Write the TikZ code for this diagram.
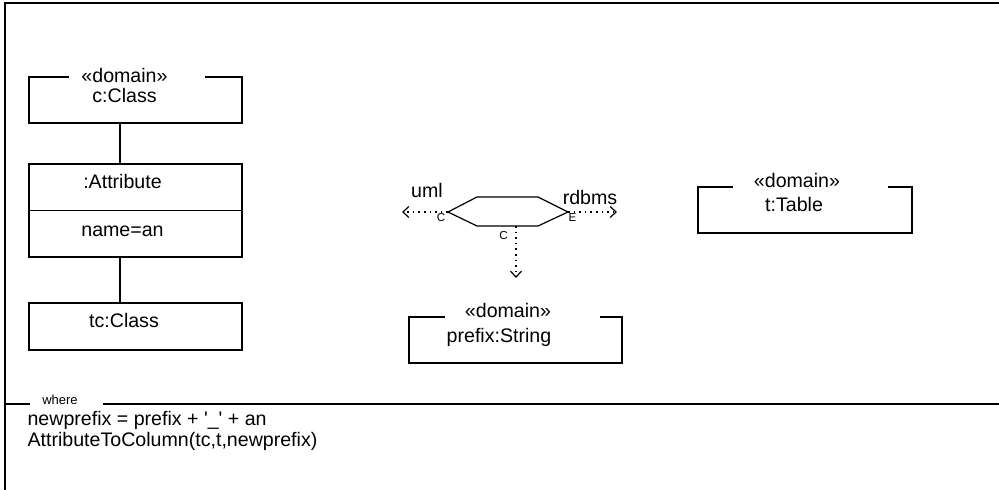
\documentclass[tikz,border=0pt]{standalone}
\usepackage{fontspec}
\setmainfont{Liberation Sans}
\usetikzlibrary{arrows.meta}

\tikzset{
  objbox/.style={draw, minimum width=106.5pt, inner sep=0pt},
  gapfill/.style={fill=white, inner sep=0pt, minimum height=4pt},
  lbl/.style={anchor=base, inner sep=0pt, font=\fontsize{9.8}{11.5}\selectfont},
  tinylbl/.style={anchor=base, inner sep=0pt, font=\fontsize{5.8}{7}\selectfont},
  dep/.style={dash pattern=on 0.8pt off 2pt, -{Straight Barb[length=3pt,width=5.5pt]}},
}

\begin{document}
\begin{tikzpicture}[x=0.5pt, y=-0.5pt, line width=0.6pt]
\useasboundingbox (0,0) rectangle (999,490);
% frame and where part
\draw (5,490) -- (5,3) -- (999,3);
\draw (5,404) -- (30,404); \draw (103,404) -- (999,404);
\node[tinylbl, font=\fontsize{6.5}{8}\selectfont] (where) at (60,405) {where};
\node[anchor=base west, inner sep=0pt, align=left, font=\fontsize{9.8}{10.5}\selectfont] (body) at (27,447)
  {newprefix = prefix + \textquotesingle\_\textquotesingle{} + an\\AttributeToColumn(tc,t,newprefix)};

% uml side
\node[objbox, minimum height=23pt] (cClass) at (135.5,100) {};
\node[objbox, minimum height=46.5pt] (attr) at (135.5,210.5) {};
\node[objbox, minimum height=23.5pt] (tcClass) at (135.5,326.5) {};
\draw (attr.west) -- (attr.east);
\draw ([xshift=-7.75pt]cClass.south) -- ([xshift=-7.75pt]attr.north);
\draw ([xshift=-7.75pt]attr.south) -- ([xshift=-7.75pt]tcClass.north);
\node[gapfill, minimum width=68pt] (cGap) at (137,77) {};
\node[lbl] (cStereo) at (124.5,83) {«domain»}; \node[lbl] (cName) at (124.5,103) {c:Class};
\node[lbl] (attrName) at (122.5,189) {:Attribute}; \node[lbl] (attrVal) at (122.5,237) {name=an};
\node[lbl] (tcName) at (124,328) {tc:Class};

% relation marker
\coordinate (rW) at (448,212); \coordinate (rNW) at (477,197); \coordinate (rNE) at (538,197);
\coordinate (rE) at (568,212); \coordinate (rSE) at (538,226); \coordinate (rSW) at (477,226);
\coordinate (rS) at (516,226);
\draw (rW) -- (rNW) -- (rNE) -- (rE) -- (rSE) -- (rSW) -- cycle;
\coordinate (umlEnd) at (402,212); \coordinate (rdbmsEnd) at (617,212); \coordinate (domEnd) at (516,278);
\draw[dep] (rW) -- (umlEnd); \draw[dep] (rE) -- (rdbmsEnd); \draw[dep] (rS) -- (domEnd);
\node[lbl] (uml) at (427,198) {uml}; \node[lbl] (rdbms) at (590,205) {rdbms};
\node[tinylbl] (cLeft) at (441,222) {C}; \node[tinylbl] (eRight) at (572.5,222) {E};
\node[tinylbl] (cDown) at (503.5,240) {C};

% prefix and table
\node[objbox, minimum height=23pt] (prefixBox) at (515.5,340) {};
\node[gapfill, minimum width=77.5pt] (pGap) at (522,317) {};
\node[lbl] (pStereo) at (508,318) {«domain»}; \node[lbl] (pName) at (499,343) {prefix:String};
\node[objbox, minimum width=107pt, minimum height=23pt] (tTable) at (805,210) {};
\node[gapfill, minimum width=77.5pt] (tGap) at (810.5,187) {};
\node[lbl] (tStereo) at (797,188) {«domain»}; \node[lbl] (tName) at (794,212) {t:Table};
\end{tikzpicture}
\end{document}
